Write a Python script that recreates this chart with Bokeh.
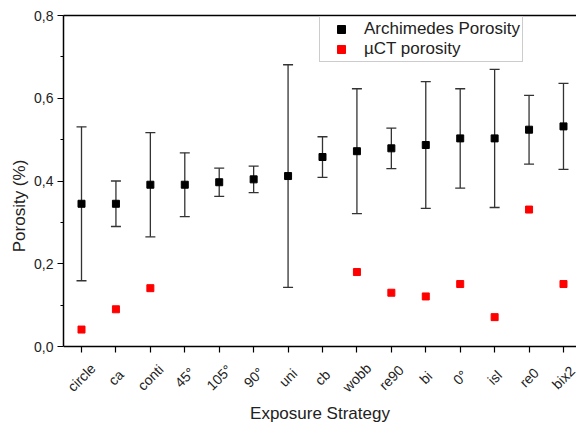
from math import pi
from bokeh.plotting import figure
from bokeh.models import (ColumnDataSource, Whisker, TeeHead, FixedTicker, LinearAxis,
                          Range1d, Legend, LegendItem, LabelSet, Title)
from bokeh.core.properties import value
from bokeh.embed import file_html
from bokeh.resources import INLINE

categories = ["circle", "ca", "conti", "45°", "105°", "90°", "uni", "cb", "wobb",
              "re90", "bi", "0°", "isl", "re0", "bix2"]
arch_mean = [0.345, 0.345, 0.391, 0.391, 0.397, 0.404, 0.412, 0.458, 0.472,
             0.479, 0.487, 0.503, 0.503, 0.524, 0.532]
arch_err = [0.186, 0.055, 0.126, 0.077, 0.034, 0.032, 0.269, 0.049, 0.151,
            0.049, 0.153, 0.120, 0.167, 0.083, 0.104]
ct_categories = ["circle", "ca", "conti", "wobb", "re90", "bi", "0°", "isl", "re0", "bix2"]
ct_values = [0.041, 0.090, 0.141, 0.180, 0.130, 0.121, 0.151, 0.071, 0.331, 0.151]
y_ticks = [0.0, 0.2, 0.4, 0.6, 0.8]
y_tick_labels = ["0,0", "0,2", "0,4", "0,6", "0,8"]

FONT = "Liberation Sans"

xpos = list(range(1, len(categories) + 1))
idx = {c: i + 1 for i, c in enumerate(categories)}
ct_x = [idx[c] for c in ct_categories]

arch_src = ColumnDataSource(dict(
    x=xpos, y=arch_mean,
    upper=[m + e for m, e in zip(arch_mean, arch_err)],
    lower=[m - e for m, e in zip(arch_mean, arch_err)],
))
ct_src = ColumnDataSource(dict(x=ct_x, y=ct_values))
lab_src = ColumnDataSource(dict(x=xpos, y=[0.0] * len(xpos), text=categories))

# frame extends below y=0 so that the rotated category labels sit inside it;
# the x axis is pinned at y=0 and the y axis is bounded to 0..0.8
p = figure(width=576, height=430, output_backend="svg", toolbar_location=None,
           x_range=Range1d(0.477, 15.378), y_range=Range1d(-0.1208, 0.8),
           min_border_left=63, min_border_right=0, min_border_top=15,
           min_border_bottom=34, x_axis_location="below")
p.outline_line_color = None
p.grid.visible = False
p.background_fill_color = "white"
p.border_fill_color = "white"

xa = p.below[0]
ya = p.left[0]

# Top frame line
top = LinearAxis(ticker=FixedTicker(ticks=[]), major_label_text_font_size="0px",
                 major_tick_line_color=None, minor_tick_line_color=None,
                 axis_line_color="black", axis_line_width=1.5)
p.add_layout(top, "above")

wh = Whisker(base="x", upper="upper", lower="lower", source=arch_src,
             dimension="height", line_color="#333333", line_width=1.3,
             upper_head=TeeHead(size=10, line_color="#333333", line_width=1.3),
             lower_head=TeeHead(size=10, line_color="#333333", line_width=1.3))
p.add_layout(wh)

r1 = p.scatter("x", "y", source=arch_src, marker="square", size=7,
               fill_color="black", line_color="black")
r2 = p.scatter("x", "y", source=ct_src, marker="square", size=7,
               fill_color="#ff0000", line_color="#ff0000")

xa.fixed_location = 0.0
xa.ticker = FixedTicker(ticks=xpos)
xa.major_label_text_color = None
xa.major_label_standoff = 4
xa.major_tick_out = 6
xa.major_tick_in = 0

# Rotated category labels, centred under each tick (as in Origin)
labels = LabelSet(x="x", y="y", text="text", source=lab_src, angle=pi / 4,
                  y_offset=-31, text_align="center", text_baseline="middle",
                  text_font=value(FONT), text_font_size="14px", text_color="#222222")
p.add_layout(labels)

# x axis title
p.add_layout(Title(text="Exposure Strategy", align="center", text_font=FONT,
                   text_font_size="17px", text_font_style="normal",
                   text_color="#222222", standoff=11), "below")

ya.bounds = (0.0, 0.8)
ya.ticker = FixedTicker(ticks=y_ticks, minor_ticks=[0.1, 0.3, 0.5, 0.7])
ya.major_label_overrides = {t: l for t, l in zip(y_ticks, y_tick_labels)}
ya.major_tick_out = 6
ya.major_tick_in = 0
ya.minor_tick_out = 3
ya.minor_tick_in = 0
ya.axis_label = "Porosity (%)"
ya.major_label_standoff = 4
ya.major_label_text_color = "#222222"

for ax in (xa, ya):
    ax.axis_line_color = "black"
    ax.axis_line_width = 1.5
    ax.major_tick_line_color = "black"
    ax.major_tick_line_width = 1.2
    ax.major_label_text_font = FONT
    ax.major_label_text_font_size = "14px"
    ax.axis_label_text_font = FONT
    ax.axis_label_text_font_size = "17px"
    ax.axis_label_text_font_style = "normal"
    ax.axis_label_text_color = "#222222"
xa.minor_tick_line_color = None
ya.minor_tick_line_color = "black"
ya.axis_label_standoff = 2

legend = Legend(items=[LegendItem(label="Archimedes Porosity", renderers=[r1]),
                       LegendItem(label="µCT porosity", renderers=[r2])],
                location=(256, 334), margin=0, padding=2, spacing=0,
                glyph_width=38, glyph_height=20, label_height=20, label_standoff=4,
                label_text_font=FONT, label_text_font_size="17px",
                label_text_color="#222222",
                border_line_color="#999999", border_line_width=1,
                background_fill_color="white", background_fill_alpha=1.0)
p.add_layout(legend, "center")

open("out.html", "w").write(file_html(p, INLINE))
